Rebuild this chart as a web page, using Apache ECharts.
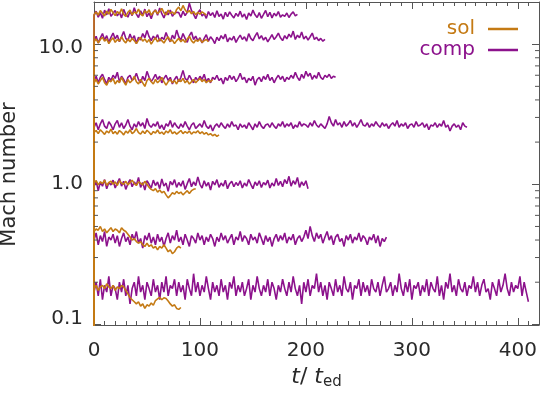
<!DOCTYPE html>
<html>
<head>
<meta charset="utf-8">
<script src="https://cdn.jsdelivr.net/npm/echarts@6/dist/echarts.min.js"></script>
<style>html,body{margin:0;padding:0;background:#fff}#c{width:540px;height:393px}</style>
</head>
<body>
<div id="c"></div>
<script>
// ---------- data ----------
// each run: first entry = value at the very start (t = 0, off the bottom of the axis),
// then samples every T_STEP starting at t = 0
const T_STEP = 2;
const xTickLabels = ['0', '100', '200', '300', '400'];
const yTickValues = [0.1, 1, 10];
const yTickLabels = ['{lo|0.1}', '1.0', '{hi|10.0}'];
const yMinorTicks = [0.2,0.3,0.4,0.5,0.6,0.7,0.8,0.9,2,3,4,5,6,7,8,9];

// "sol" runs (orange)
const sol1 = [0.01,
 16.3,17.0,16.1,17.4,16.6,15.9,17.2,16.4,17.7,16.8,
 16.0,17.1,16.5,17.9,16.3,15.8,16.9,17.5,16.2,17.0,
 16.6,17.8,16.4,15.9,17.3,16.7,17.6,16.1,16.9,17.4,
 16.5,17.2,18.0,16.8,16.2,17.5,16.6,17.0,16.3,17.7,
 18.4,17.3,18.9,17.6,16.8,17.4,16.5,17.1,16.2,16.9,
 16.4,17.0,16.6,16.1];
const sol2 = [0.01,
 10.4,10.9,10.2,10.8,11.2,10.5,10.9,10.1,10.7,11.1,
 10.3,10.8,10.5,11.3,10.6,10.2,10.9,10.4,11.0,10.6,
 10.1,10.7,11.2,10.5,10.9,10.3,10.8,10.0,10.6,11.1,
 10.4,10.9,10.6,10.2,10.8,11.3,10.5,10.7,10.1,10.6,
 11.0,10.4,10.8,10.3,10.9,11.4,10.6,10.2,10.7,10.5,
 10.9,10.3,10.6,10.8,10.4];
const sol3 = [0.01,
 5.3,5.6,5.2,5.5,5.8,5.3,5.1,5.5,5.4,5.7,
 5.2,5.5,5.3,5.8,5.4,5.1,5.6,5.3,5.5,5.9,
 5.4,5.2,5.6,5.3,5.0,5.5,5.7,5.4,5.2,5.6,
 5.3,5.5,5.8,5.4,5.1,5.4,5.6,5.3,5.5,5.2,
 5.6,5.4,5.7,5.3,5.5,5.2,5.4,5.6,5.3,5.5,
 5.7,5.4,5.6,5.3,5.5,5.4,5.6];
const sol4 = [0.01,
 2.35,2.42,2.3,2.45,2.36,2.27,2.4,2.33,2.48,2.3,
 2.38,2.28,2.42,2.35,2.25,2.4,2.32,2.45,2.3,2.37,
 2.5,2.34,2.28,2.4,2.3,2.43,2.35,2.26,2.38,2.32,
 2.44,2.3,2.36,2.27,2.4,2.33,2.46,2.3,2.37,2.28,
 2.35,2.42,2.3,2.38,2.32,2.4,2.28,2.36,2.33,2.41,
 2.3,2.37,2.28,2.34,2.25,2.3,2.22,2.27,2.2,2.25];
const sol5 = [0.01,
 1.02,1.06,0.99,1.04,1.01,1.07,0.98,1.03,1.05,1.0,
 1.04,0.98,1.06,1.02,1.0,1.05,0.99,1.03,1.07,1.01,
 0.98,1.04,1.02,0.99,1.05,1.0,0.95,0.92,0.9,0.93,
 0.88,0.91,0.87,0.89,0.84,0.8,0.83,0.87,0.85,0.89,
 0.86,0.88,0.84,0.87,0.9,0.86,0.9,0.92,0.93];
const sol6 = [0.01,
 0.46,0.48,0.47,0.5,0.46,0.48,0.45,0.47,0.49,0.46,
 0.48,0.47,0.45,0.49,0.47,0.46,0.44,0.42,0.4,0.41,
 0.39,0.38,0.39,0.37,0.36,0.38,0.36,0.37,0.35,0.36,
 0.34,0.36,0.35,0.37,0.35,0.33,0.34,0.32,0.33,0.35,
 0.36,0.35];
const sol7 = [0.01,
 0.18,0.19,0.175,0.185,0.19,0.18,0.195,0.185,0.18,0.19,
 0.175,0.185,0.18,0.19,0.185,0.175,0.165,0.155,0.15,0.145,
 0.14,0.145,0.135,0.14,0.13,0.138,0.135,0.142,0.137,0.148,
 0.152,0.156,0.15,0.155,0.153,0.147,0.14,0.135,0.138,0.13,
 0.128,0.132];

// "comp" runs (purple)
const comp1 = [0.01,
 16.0,17.2,15.6,16.8,15.3,17.5,16.2,17.9,15.8,16.6,
 17.4,15.9,16.9,15.4,17.7,16.3,15.6,17.1,16.0,18.2,
 16.4,15.5,17.3,16.1,17.8,15.7,16.7,15.2,16.9,17.6,
 16.1,18.1,16.5,15.4,17.0,16.2,17.5,15.8,16.6,16.9,
 16.8,15.5,17.2,16.0,16.9,19.6,17.4,16.3,15.2,16.7,
 17.6,15.9,16.5,15.3,17.1,16.0,16.8,15.5,17.3,15.8,
 16.4,15.1,16.9,15.7,17.0,16.1,15.4,16.6,15.8,17.2,
 15.6,16.4,15.0,16.7,15.9,17.5,16.2,15.5,16.8,15.3,
 16.3,17.4,15.7,16.9,15.4,16.6,15.9,17.1,15.6,16.2,
 15.8,16.7,15.5,16.4,17.0,15.9,16.3];
const comp2 = [0.01,
 10.5,11.4,10.2,11.1,11.9,10.7,11.5,10.3,11.2,12.0,
 10.9,11.6,10.4,11.3,12.3,11.0,10.6,11.8,10.8,11.5,
 10.1,11.2,10.7,11.9,11.1,12.5,11.3,10.6,11.4,10.9,
 11.7,10.5,11.2,10.8,12.1,11.0,10.4,11.6,10.9,12.6,
 11.3,10.7,11.9,11.0,10.3,11.5,12.2,10.8,11.4,10.6,
 11.1,10.2,11.0,11.7,10.5,11.3,10.8,10.1,11.2,10.6,
 11.5,10.9,11.8,10.4,11.1,10.7,11.4,10.3,11.0,11.6,
 10.8,11.3,10.5,11.9,11.0,10.6,11.4,12.1,10.9,11.5,
 10.7,11.2,10.4,11.0,11.7,10.8,11.3,12.0,11.1,10.6,
 11.5,10.9,11.8,11.2,12.4,10.8,11.6,11.1,12.2,10.9,
 11.4,10.7,11.3,12.0,10.8,11.2,10.6,11.0,10.5,10.8];
const comp3 = [0.01,
 5.5,5.9,5.3,5.8,6.1,5.6,5.2,5.8,5.5,6.0,
 5.7,6.3,5.4,5.9,5.6,5.2,5.8,6.0,5.5,5.7,
 6.2,5.6,5.3,5.9,5.5,6.4,5.8,5.4,5.7,6.1,
 5.6,5.9,5.3,5.7,6.0,5.5,5.8,5.2,5.6,5.9,
 5.4,5.8,6.5,5.7,5.5,6.0,5.6,5.3,5.8,5.5,
 5.9,5.6,6.1,5.4,5.7,5.3,5.8,5.6,6.0,5.5,
 5.7,5.2,5.8,5.5,6.0,5.6,5.9,5.4,5.7,6.2,
 5.6,5.8,5.3,5.7,5.5,5.9,5.1,5.6,5.8,5.4,
 5.9,5.6,6.1,5.5,5.8,5.3,5.7,6.0,5.6,5.9,
 5.4,5.8,5.6,6.0,5.7,6.3,5.8,5.5,6.1,5.7,
 6.4,5.9,6.2,5.6,6.0,5.7,6.3,5.8,5.6,6.0,
 5.8,6.1,5.7,5.9,5.8];
const comp4 = [0.01,
 2.55,2.75,2.45,2.7,2.9,2.6,2.5,2.8,2.65,2.45,
 2.7,2.85,2.55,2.75,2.5,2.65,2.9,2.6,2.45,2.7,
 2.55,2.8,2.6,2.75,2.5,2.95,2.65,2.55,2.7,2.6,
 2.8,2.5,2.65,2.45,2.7,2.6,2.85,2.55,2.75,2.6,
 2.5,2.7,2.55,2.8,2.6,2.45,2.65,2.75,2.5,2.6,
 2.7,2.55,2.85,2.6,2.5,2.65,2.4,2.6,2.7,2.55,
 2.75,2.6,2.5,2.7,2.55,2.8,2.6,2.65,2.45,2.7,
 2.55,2.65,2.5,2.75,2.6,2.45,2.7,2.55,2.8,2.6,
 2.5,2.65,2.7,2.55,2.75,2.6,2.5,2.7,2.6,2.8,
 2.55,2.7,2.6,2.75,2.5,2.65,2.55,2.8,2.6,2.7,
 2.65,2.55,2.75,2.6,2.85,2.65,2.55,2.7,2.6,2.5,
 2.7,3.05,2.75,2.6,2.9,2.65,2.75,2.55,2.8,2.6,
 2.7,2.85,2.6,2.75,2.55,2.7,2.9,2.65,2.6,2.75,
 2.55,2.7,2.6,2.8,2.65,2.55,2.75,2.6,2.7,2.5,
 2.65,2.75,2.6,2.85,2.55,2.7,2.6,2.75,2.5,2.65,
 2.7,2.55,2.8,2.6,2.65,2.75,2.55,2.7,2.45,2.65,
 2.6,2.75,2.55,2.7,2.6,2.85,2.55,2.65,2.4,2.6,
 2.7,2.55,2.65,2.45,2.75,2.6,2.55];
const comp5 = [0.01,
 0.96,1.06,0.9,1.04,0.97,1.08,0.93,1.03,0.99,1.07,
 0.94,1.02,1.1,0.97,1.05,0.92,1.01,1.08,0.96,1.04,
 0.99,1.12,0.95,1.03,0.91,1.06,1.0,0.94,1.07,0.98,
 1.04,0.93,1.09,0.97,1.02,0.89,1.05,0.99,1.08,0.95,
 1.03,0.97,1.06,0.92,1.01,1.1,0.96,1.04,0.98,1.13,
 1.0,0.94,1.06,0.97,1.03,0.91,1.05,0.99,1.08,0.95,
 1.02,0.97,1.07,0.93,1.01,1.05,0.96,1.03,0.98,1.06,
 0.94,1.02,0.97,1.08,1.0,0.93,1.04,0.98,1.06,0.95,
 1.03,0.99,1.07,0.94,1.02,0.97,1.1,0.98,1.05,0.96,
 1.08,1.01,1.14,0.97,1.06,1.0,1.12,0.95,1.04,0.98,
 1.06,0.93];
const comp6 = [0.01,
 0.4,0.45,0.37,0.43,0.39,0.46,0.36,0.42,0.4,0.44,
 0.38,0.43,0.36,0.41,0.45,0.39,0.42,0.37,0.44,0.4,
 0.46,0.38,0.41,0.35,0.43,0.4,0.45,0.38,0.42,0.37,
 0.44,0.39,0.42,0.36,0.41,0.45,0.38,0.43,0.4,0.47,
 0.39,0.42,0.37,0.44,0.4,0.36,0.43,0.41,0.38,0.45,
 0.4,0.43,0.37,0.42,0.39,0.44,0.41,0.36,0.42,0.39,
 0.45,0.4,0.43,0.38,0.41,0.44,0.37,0.42,0.4,0.46,
 0.39,0.43,0.41,0.37,0.44,0.4,0.42,0.38,0.45,0.41,
 0.37,0.43,0.39,0.42,0.36,0.41,0.44,0.39,0.43,0.4,
 0.45,0.38,0.42,0.4,0.44,0.37,0.41,0.43,0.39,0.42,
 0.47,0.41,0.5,0.43,0.39,0.45,0.41,0.44,0.38,0.42,
 0.46,0.4,0.43,0.37,0.42,0.44,0.39,0.41,0.36,0.43,
 0.4,0.44,0.38,0.42,0.4,0.45,0.39,0.43,0.41,0.37,
 0.42,0.4,0.44,0.38,0.43,0.36,0.41,0.39,0.42];
const comp7 = [0.01,
 0.17,0.2,0.16,0.21,0.15,0.19,0.17,0.22,0.16,0.19,
 0.18,0.15,0.2,0.17,0.21,0.16,0.19,0.14,0.18,0.2,
 0.16,0.22,0.17,0.19,0.15,0.2,0.18,0.16,0.21,0.17,
 0.19,0.15,0.2,0.17,0.22,0.16,0.19,0.18,0.21,0.16,
 0.2,0.17,0.19,0.15,0.21,0.18,0.16,0.23,0.17,0.2,
 0.16,0.19,0.17,0.22,0.18,0.15,0.2,0.17,0.19,0.16,
 0.21,0.17,0.19,0.15,0.2,0.18,0.22,0.16,0.19,0.17,
 0.2,0.16,0.18,0.21,0.15,0.19,0.17,0.22,0.18,0.16,
 0.19,0.17,0.21,0.16,0.2,0.18,0.15,0.19,0.17,0.21,
 0.18,0.16,0.2,0.17,0.22,0.18,0.16,0.19,0.14,0.2,
 0.17,0.21,0.16,0.19,0.18,0.23,0.17,0.2,0.16,0.19,
 0.15,0.2,0.18,0.16,0.21,0.17,0.19,0.16,0.22,0.18,
 0.17,0.2,0.15,0.19,0.18,0.21,0.16,0.2,0.17,0.19,
 0.16,0.21,0.18,0.17,0.2,0.16,0.19,0.22,0.17,0.18,
 0.2,0.16,0.19,0.17,0.23,0.18,0.16,0.2,0.17,0.21,
 0.15,0.19,0.18,0.2,0.16,0.19,0.17,0.21,0.16,0.2,
 0.18,0.17,0.22,0.16,0.19,0.15,0.2,0.18,0.23,0.17,
 0.19,0.16,0.21,0.18,0.17,0.2,0.16,0.19,0.18,0.22,
 0.17,0.2,0.16,0.19,0.21,0.17,0.18,0.15,0.2,0.18,
 0.16,0.21,0.17,0.19,0.23,0.18,0.16,0.2,0.17,0.19,
 0.18,0.22,0.16,0.2,0.17,0.145];

const solRuns = [sol1, sol2, sol3, sol4, sol5, sol6, sol7];
const compRuns = [comp1, comp2, comp3, comp4, comp5, comp6, comp7];

// ---------- styling ----------
const ORANGE = '#c47a14';
const PURPLE = '#8c128c';
const AXIS = '#555';
const TEXT = '#2a2a2a';
const FONT = 'DejaVu Sans';
const X_MIN = 0, X_MAX = 420, Y_MIN = 0.099, Y_MAX = 20;

function pairs(vals) {
  return vals.map((v, i) => [i === 0 ? 0 : (i - 1) * T_STEP, v]);
}

function lineSeries(name, color, vals) {
  return {
    type: 'line', name: name, data: pairs(vals), xAxisIndex: 0, yAxisIndex: 0,
    symbol: 'none', showSymbol: false, clip: true, silent: true,
    lineStyle: { color: color, width: 1.6 }, itemStyle: { color: color },
    emphasis: { disabled: true }
  };
}

const series = [];
compRuns.forEach(r => series.push(lineSeries('comp', PURPLE, r)));
solRuns.forEach(r => series.push(lineSeries('sol', ORANGE, r)));

// minor log ticks on the left and right frame
series.push({
  type: 'custom', name: 'minorTicks', xAxisIndex: 0, yAxisIndex: 0, silent: true, z: 5,
  data: yMinorTicks.map(v => [X_MIN, v]),
  renderItem: function (params, api) {
    const v = api.value(1);
    const pL = api.coord([X_MIN, v]);
    const pR = api.coord([X_MAX, v]);
    const st = { stroke: AXIS, lineWidth: 1 };
    return { type: 'group', children: [
      { type: 'line', shape: { x1: pL[0], y1: pL[1], x2: pL[0] + 4, y2: pL[1] }, style: st },
      { type: 'line', shape: { x1: pR[0], y1: pR[1], x2: pR[0] - 4, y2: pR[1] }, style: st }
    ]};
  }
});

function xAx(pos, interval, len, main) {
  const withLabels = main && pos === 'bottom';
  return {
    type: 'value', position: pos, min: X_MIN, max: X_MAX, interval: interval,
    axisLine: { show: main, onZero: false, lineStyle: { color: AXIS, width: 1 } },
    axisTick: { show: true, inside: true, length: len, lineStyle: { color: AXIS } },
    splitLine: { show: false },
    axisLabel: withLabels ? {
      show: true, margin: 16, color: TEXT, fontFamily: FONT, fontSize: 20,
      showMaxLabel: false,
      formatter: v => { const i = Math.round(v / 100); return (v % 100 === 0 && i < xTickLabels.length) ? xTickLabels[i] : ''; }
    } : { show: false },
    name: withLabels ? '{i|t}{n|/ }{i|t}{s|ed}' : '',
    nameLocation: 'middle', nameGap: 38,
    nameTextStyle: {
      rich: {
        i: { fontFamily: FONT, fontStyle: 'italic', fontSize: 22, color: TEXT, lineHeight: 26 },
        n: { fontFamily: FONT, fontSize: 22, color: TEXT, lineHeight: 26 },
        s: { fontFamily: FONT, fontSize: 15, color: TEXT, verticalAlign: 'bottom', lineHeight: 15 }
      }
    }
  };
}

function yAx(pos, main) {
  return {
    type: 'log', logBase: 10, position: pos, min: Y_MIN, max: Y_MAX,
    axisLine: { show: true, onZero: false, lineStyle: { color: AXIS, width: 1 } },
    axisTick: { show: true, inside: true, length: 7, lineStyle: { color: AXIS } },
    splitLine: { show: false }, minorTick: { show: false },
    axisLabel: main ? {
      show: true, margin: 11, color: TEXT, fontFamily: FONT, fontSize: 20,
      showMinLabel: true, showMaxLabel: true, hideOverlap: false,
      formatter: v => {
        for (let k = 0; k < yTickValues.length; k++) {
          if (Math.abs(v - yTickValues[k]) < 1e-6 * yTickValues[k]) return yTickLabels[k];
        }
        return '';
      },
      rich: {
        lo: { fontFamily: FONT, fontSize: 20, color: TEXT, padding: [0, 0, 12, 0] },
        hi: { fontFamily: FONT, fontSize: 20, color: TEXT, padding: [8, 0, 0, 0] }
      }
    } : { show: false },
    name: main ? 'Mach number' : '',
    nameLocation: 'middle', nameGap: 74, nameRotate: 90,
    nameTextStyle: { fontFamily: FONT, fontSize: 21, color: TEXT, padding: [0, 22, 0, 0] }
  };
}

const chart = echarts.init(document.getElementById('c'), null, { renderer: 'canvas' });
chart.setOption({
  animation: false,
  backgroundColor: '#fff',
  grid: { left: 94, right: 1, top: 2, bottom: 68, containLabel: false, outerBoundsMode: 'none' },
  xAxis: [
    xAx('bottom', 100, 7, true),
    xAx('bottom', 10, 4, false),
    xAx('top', 100, 7, true),
    xAx('top', 10, 4, false)
  ],
  yAxis: [ yAx('left', true), yAx('right', false) ],
  legend: {
    show: true, orient: 'vertical', right: 17, top: 14, align: 'right',
    icon: 'rect', itemWidth: 30, itemHeight: 2.5, itemGap: 1,
    selectedMode: false,
    textStyle: { fontFamily: FONT, fontSize: 20, lineHeight: 20, padding: [0, 8, 0, 0] },
    data: [
      { name: 'sol', textStyle: { color: ORANGE } },
      { name: 'comp', textStyle: { color: PURPLE } }
    ]
  },
  series: series
});
</script>
</body>
</html>
